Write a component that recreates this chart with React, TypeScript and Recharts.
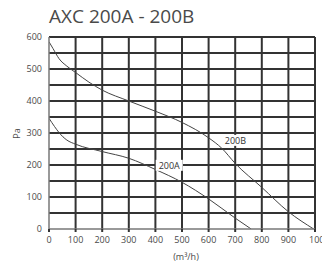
import React from 'react';
import { LineChart, Line, XAxis, YAxis, ReferenceLine, ReferenceDot } from 'recharts';

const title = 'AXC 200A - 200B';
const yLabel = 'Pa';
const xLabel = '(m³/h)';
const flowTicks = [0, 100, 200, 300, 400, 500, 600, 700, 800, 900, 1000];
const pressureTicks = [0, 100, 200, 300, 400, 500, 600];
const gridFlow = [100, 200, 300, 400, 500, 600, 700, 800, 900, 1000];
const gridPressure = [50, 100, 150, 200, 250, 300, 350, 400, 450, 500, 550, 600];

const curve200A = [
  { q: 0, p: 346 }, { q: 21, p: 320 }, { q: 38, p: 301 }, { q: 67, p: 278 },
  { q: 100, p: 265 }, { q: 200, p: 242 }, { q: 300, p: 221 }, { q: 400, p: 186 },
  { q: 500, p: 146 }, { q: 600, p: 94 }, { q: 700, p: 34 }, { q: 760, p: 0 },
];
const curve200B = [
  { q: 0, p: 585 }, { q: 15, p: 564 }, { q: 38, p: 532 }, { q: 67, p: 509 },
  { q: 100, p: 489 }, { q: 150, p: 459 }, { q: 200, p: 434 }, { q: 300, p: 400 },
  { q: 400, p: 368 }, { q: 500, p: 333 }, { q: 600, p: 285 }, { q: 650, p: 252 },
  { q: 700, p: 205 }, { q: 800, p: 130 }, { q: 900, p: 54 }, { q: 995, p: 0 },
];
const seriesLabels = [
  { name: '200A', q: 452, p: 199 },
  { name: '200B', q: 701, p: 277 },
];

const FONT = "'Open Sans', sans-serif";
const TXT = '#4a4a4a';
const GRID = '#333333';

const XTick = (props: any) => {
  const { x, y, payload } = props;
  const last = payload.value === 1000;
  return (
    <text x={last ? x - 6 : x} y={y} dy="0.71em" textAnchor={last ? 'start' : 'middle'}
      fontSize={9} fontFamily={FONT} fill={TXT}>
      {payload.value}
    </text>
  );
};

const makeLabel = (name: string) => (props: any) => {
  const vb = props.viewBox || {};
  const cx = (vb.x ?? 0) + (vb.width ?? 0) / 2;
  const cy = (vb.y ?? 0) + (vb.height ?? 0) / 2;
  return (
    <g>
      <rect x={cx - 13.5} y={cy - 5.5} width={27} height={11} fill="#fff" />
      <text x={cx} y={cy} dy="0.355em" textAnchor="middle" fontSize={9} fontFamily={FONT} fill="#333">
        {name}
      </text>
    </g>
  );
};

export default function App() {
  return (
    <div style={{ position: 'absolute', left: 0, top: 0, width: 322, height: 264, background: '#fff', overflow: 'hidden' }}>
      <LineChart width={322} height={264} margin={{ top: 37, right: 7, bottom: 15, left: 9 }}>
        <XAxis type="number" dataKey="q" domain={[0, 1000]} ticks={flowTicks} allowDataOverflow interval={0}
          tick={<XTick />} tickSize={3} tickMargin={5} height={20}
          axisLine={{ stroke: '#777', strokeWidth: 1.5 }} tickLine={{ stroke: GRID, strokeWidth: 2 }} />
        <YAxis type="number" dataKey="p" domain={[0, 600]} ticks={pressureTicks} allowDataOverflow interval={0}
          width={40} tickSize={0} tickMargin={7} tickLine={false}
          tick={{ fontSize: 9, fontFamily: FONT, fill: TXT }}
          axisLine={{ stroke: '#777', strokeWidth: 1.5 }} />
        {gridFlow.map((v) => (
          <ReferenceLine key={'x' + v} x={v} stroke={GRID} strokeWidth={2} />
        ))}
        {gridPressure.map((v) => (
          <ReferenceLine key={'y' + v} y={v} stroke={GRID} strokeWidth={2} />
        ))}
        {seriesLabels.map((s) => (
          <ReferenceDot key={s.name} x={s.q} y={s.p} r={0} stroke="none" fill="none"
            label={makeLabel(s.name)} />
        ))}
        <Line data={curve200A} dataKey="p" type="monotone" stroke="#444" strokeWidth={1}
          dot={false} isAnimationActive={false} />
        <Line data={curve200B} dataKey="p" type="monotone" stroke="#444" strokeWidth={1}
          dot={false} isAnimationActive={false} />
      </LineChart>
      <svg width={322} height={264} style={{ position: 'absolute', left: 0, top: 0, pointerEvents: 'none' }}>
        <text x={49} y={23} fontSize={19} fontFamily={FONT} fill={TXT}>{title}</text>
        <text x={16.5} y={133.5} fontSize={9} fontFamily={FONT} fill={TXT} textAnchor="middle"
          dominantBaseline="central" transform="rotate(-90 16.5 133.5)">{yLabel}</text>
        <text x={186} y={256} fontSize={9} fontFamily={FONT} fill={TXT} textAnchor="middle"
          dominantBaseline="central">{xLabel}</text>
      </svg>
    </div>
  );
}
